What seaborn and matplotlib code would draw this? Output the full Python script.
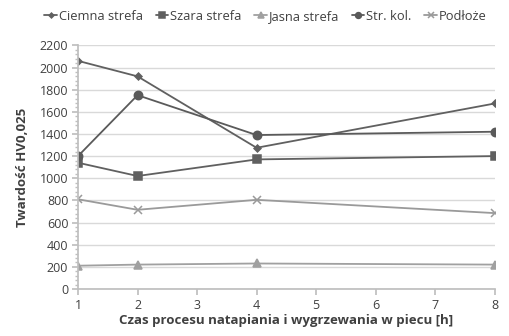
import numpy as np
import pandas as pd
import matplotlib
matplotlib.use("Agg")
import matplotlib.pyplot as plt
import seaborn as sns
from matplotlib.ticker import MultipleLocator

# time of process [h]
czas = [1, 2, 4, 8]
ciemna = [2060, 1920, 1275, 1675]
szara = [1140, 1020, 1170, 1200]
jasna = [210, 220, 230, 220]
str_kol = [1200, 1750, 1390, 1420]
podloze = [810, 715, 805, 685]

series = ["Ciemna strefa", "Szara strefa", "Jasna strefa", "Str. kol.", "Podłoże"]
values = [ciemna, szara, jasna, str_kol, podloze]

df = pd.DataFrame({
    "czas": czas * len(series),
    "hv": sum(values, []),
    "seria": np.repeat(series, len(czas)),
})

sns.set_theme(style="white")
plt.rcParams["font.family"] = ["Open Sans", "DejaVu Sans"]

colors = {"Ciemna strefa": "#606060", "Szara strefa": "#606060", "Jasna strefa": "#a0a0a0",
          "Str. kol.": "#5a5a5a", "Podłoże": "#9a9a9a"}
markers = {"Ciemna strefa": "D", "Szara strefa": "s", "Jasna strefa": "^",
           "Str. kol.": "o", "Podłoże": "x"}
msizes = {"Ciemna strefa": 3.5, "Szara strefa": 5.5, "Jasna strefa": 5.5,
          "Str. kol.": 6, "Podłoże": 5.5}

fig, ax = plt.subplots(figsize=(5.1, 3.36), dpi=100)
for name in series:
    sub = df[df["seria"] == name]
    sns.lineplot(data=sub, x="czas", y="hv", ax=ax, color=colors[name], marker=markers[name],
                 markersize=msizes[name], markeredgecolor=colors[name], markeredgewidth=1.1,
                 linewidth=1.3, label=name)

ax.set_xlim(1, 8)
ax.set_ylim(0, 2200)
ax.set_xticks(range(1, 9))
ax.yaxis.set_major_locator(MultipleLocator(200))
ax.yaxis.set_minor_locator(MultipleLocator(40))
ax.grid(axis="y", color="#d9d9d9", linewidth=1)
ax.set_axisbelow(True)
for s in ["top", "right"]:
    ax.spines[s].set_visible(False)
for s in ["left", "bottom"]:
    ax.spines[s].set_color("#bfbfbf")
ax.tick_params(axis="both", which="major", length=4, color="#bfbfbf", labelsize=9, pad=3,
               labelcolor="#404040")
ax.tick_params(axis="y", which="minor", length=2, color="#bfbfbf", left=True)
ax.tick_params(axis="x", which="major", bottom=True)
ax.tick_params(axis="y", which="major", left=True)

ax.set_xlabel("Czas procesu natapiania i wygrzewania w piecu [h]", fontsize=9.5,
              fontweight="bold", color="#404040", labelpad=2)
ax.set_ylabel("Twardość HV0,025", fontsize=9.5, fontweight="bold", color="#404040",
              labelpad=8)

ax.legend(loc="lower center", bbox_to_anchor=(0.45, 1.055), ncol=5, frameon=False,
          fontsize=9.3, handlelength=1.0, handletextpad=0.15, columnspacing=0.95,
          borderaxespad=0.3, markerscale=0.7, labelcolor="#404040")

fig.subplots_adjust(left=0.153, right=0.97, bottom=0.14, top=0.865)
fig.savefig("out.png", dpi=100)
